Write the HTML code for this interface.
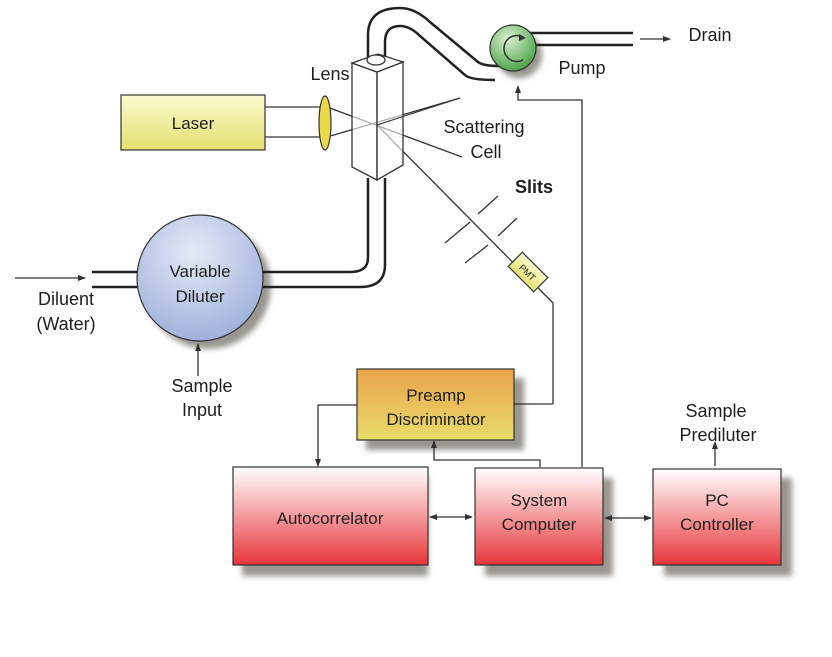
<!DOCTYPE html>
<html><head><style>
body{margin:0;background:#fff;}
svg{display:block;font-family:"Liberation Sans",sans-serif;}
</style></head><body>
<svg width="832" height="657" viewBox="0 0 832 657">
<defs>
<linearGradient id="red" x1="0" y1="0" x2="0" y2="1"><stop offset="0" stop-color="#fff"/><stop offset="1" stop-color="#e8353a"/></linearGradient>
<linearGradient id="org" x1="0" y1="0" x2="0" y2="1"><stop offset="0" stop-color="#eba24a"/><stop offset="1" stop-color="#e8dc6a"/></linearGradient>
<linearGradient id="yel" x1="0" y1="0" x2="0" y2="1"><stop offset="0" stop-color="#fbfbd0"/><stop offset="1" stop-color="#e3e070"/></linearGradient>
<radialGradient id="blu" cx="0.45" cy="0.3" r="0.8"><stop offset="0" stop-color="#e6eaf6"/><stop offset="1" stop-color="#95a9d8"/></radialGradient>
<radialGradient id="grn" cx="0.4" cy="0.3" r="0.8"><stop offset="0" stop-color="#d8f0d0"/><stop offset="1" stop-color="#3e9a3a"/></radialGradient>
<filter id="sh" x="-20%" y="-20%" width="150%" height="150%"><feGaussianBlur stdDeviation="3"/></filter>
<marker id="ar" markerWidth="8" markerHeight="8" refX="7" refY="4" orient="auto" markerUnits="userSpaceOnUse"><path d="M0,1 L8,4 L0,7z" fill="#333"/></marker>
<marker id="al" markerWidth="8" markerHeight="8" refX="1" refY="4" orient="auto" markerUnits="userSpaceOnUse"><path d="M8,1 L0,4 L8,7z" fill="#333"/></marker>
</defs>
<g fill="#9a9590" filter="url(#sh)">
<rect x="242" y="476" width="186" height="100"/>
<rect x="485" y="478" width="128" height="98"/>
<rect x="664" y="478" width="128" height="98"/>
<rect x="366" y="378" width="158" height="72"/>
<circle cx="208" cy="286" r="63"/>
<circle cx="519" cy="55" r="23"/>
</g>
<g stroke="#333" stroke-width="1.3" fill="none">
<line x1="265" y1="107" x2="325" y2="107"/><line x1="265" y1="137" x2="325" y2="137"/>
<line x1="327" y1="107" x2="462" y2="157"/><line x1="327" y1="137" x2="460" y2="98"/>
<line x1="377" y1="125" x2="553" y2="303"/>
<line x1="553" y1="303" x2="553" y2="404"/><line x1="553" y1="404" x2="514" y2="404"/>
<line x1="445" y1="243" x2="470" y2="222"/><line x1="478" y1="214" x2="498" y2="196"/>
<line x1="465" y1="263" x2="488" y2="245"/><line x1="498" y1="236" x2="517" y2="218"/>
<g stroke-width="2.5" stroke="#222">
<path d="M368,58 L368,35 Q368,8 400,8 Q415,8 430,22 L478,62 Q483,66 500,66"/>
<path d="M385,58 L385,42 Q385,26 400,26 Q410,26 420,36 L465,75 Q470,80 495,80"/>
<line x1="500" y1="33" x2="633" y2="33"/><line x1="520" y1="45" x2="633" y2="45"/>
<path d="M368,178 L368,258 Q368,272 350,272 L262,272"/>
<path d="M385,178 L385,265 Q385,287 360,287 L262,287"/>
<line x1="92" y1="272" x2="138" y2="272"/><line x1="92" y1="287" x2="138" y2="287"/>
</g>
<line x1="640" y1="39" x2="670" y2="39" marker-end="url(#ar)"/>
<line x1="15" y1="278" x2="85" y2="278" marker-end="url(#ar)"/>
<line x1="198" y1="376" x2="198" y2="344" marker-end="url(#ar)"/>
<path d="M582,467 L582,100 L518,100 L518,86" marker-end="url(#ar)"/>
<path d="M357,405 L318,405 L318,466" marker-end="url(#ar)"/>
<path d="M540,467 L540,460 L434,460 L434,441" marker-end="url(#ar)"/>
<line x1="715" y1="466" x2="715" y2="442" marker-end="url(#ar)"/>
<line x1="430" y1="517" x2="472" y2="517" marker-start="url(#al)" marker-end="url(#ar)"/>
<line x1="605" y1="518" x2="651" y2="518" marker-start="url(#al)" marker-end="url(#ar)"/>
</g>
<g stroke="#333" stroke-width="1.3" fill="#fff" fill-opacity="0.6">
<path d="M352,63 L377,72 L377,180 L352,167 Z"/>
<path d="M377,72 L403,62 L403,165 L377,180 Z"/>
<path d="M352,63 L378,54 L403,62 L377,72 Z" fill="#fff" fill-opacity="1"/>
</g>
<ellipse cx="376" cy="60" rx="9" ry="5" fill="#fff" stroke="#333" stroke-width="1.3"/>
<line x1="377" y1="125" x2="460" y2="98" stroke="#333" stroke-width="1.1"/>
<ellipse cx="325" cy="123" rx="6" ry="27" fill="#e8d84a" stroke="#333" stroke-width="1.2"/>
<rect x="121" y="95" width="144" height="55" fill="url(#yel)" stroke="#333" stroke-width="1.2"/>
<circle cx="513" cy="48" r="23" fill="url(#grn)" stroke="#333" stroke-width="1.2"/>
<path d="M523,37 A13,13 0 1 0 523,60" fill="none" stroke="#333" stroke-width="1.5"/>
<path d="M519,34 L526,38 L519,41z" fill="#333"/>
<circle cx="200" cy="278" r="63" fill="url(#blu)" stroke="#333" stroke-width="1.2"/>
<g transform="translate(528,272) rotate(45)">
<rect x="-18" y="-10" width="36" height="20" fill="url(#yel)" stroke="#333" stroke-width="1.2"/>
<text x="0" y="4" font-size="9" text-anchor="middle" fill="#222">PMT</text>
</g>
<rect x="357" y="369" width="157" height="71" fill="url(#org)" stroke="#333" stroke-width="1.2"/>
<rect x="233" y="467" width="195" height="98" fill="url(#red)" stroke="#333" stroke-width="1.2"/>
<rect x="475" y="468" width="128" height="97" fill="url(#red)" stroke="#333" stroke-width="1.2"/>
<rect x="653" y="469" width="128" height="96" fill="url(#red)" stroke="#333" stroke-width="1.2"/>
<g font-size="18" fill="#1e1e1e" text-anchor="middle">
<text x="193" y="129" font-size="17">Laser</text>
<text x="330" y="80">Lens</text>
<text x="484" y="133">Scattering</text>
<text x="486" y="158">Cell</text>
<text x="534" y="193" font-weight="bold">Slits</text>
<text x="582" y="74">Pump</text>
<text x="710" y="41">Drain</text>
<text x="200" y="277" font-size="17">Variable</text>
<text x="200" y="302" font-size="17">Diluter</text>
<text x="66" y="305">Diluent</text>
<text x="66" y="330">(Water)</text>
<text x="202" y="392">Sample</text>
<text x="202" y="416">Input</text>
<text x="436" y="401" font-size="17">Preamp</text>
<text x="436" y="425" font-size="17">Discriminator</text>
<text x="330" y="524" font-size="17">Autocorrelator</text>
<text x="539" y="506" font-size="17">System</text>
<text x="539" y="530" font-size="17">Computer</text>
<text x="717" y="506" font-size="17">PC</text>
<text x="717" y="530" font-size="17">Controller</text>
<text x="716" y="417">Sample</text>
<text x="718" y="441">Prediluter</text>
</g>
</svg>
</body></html>
